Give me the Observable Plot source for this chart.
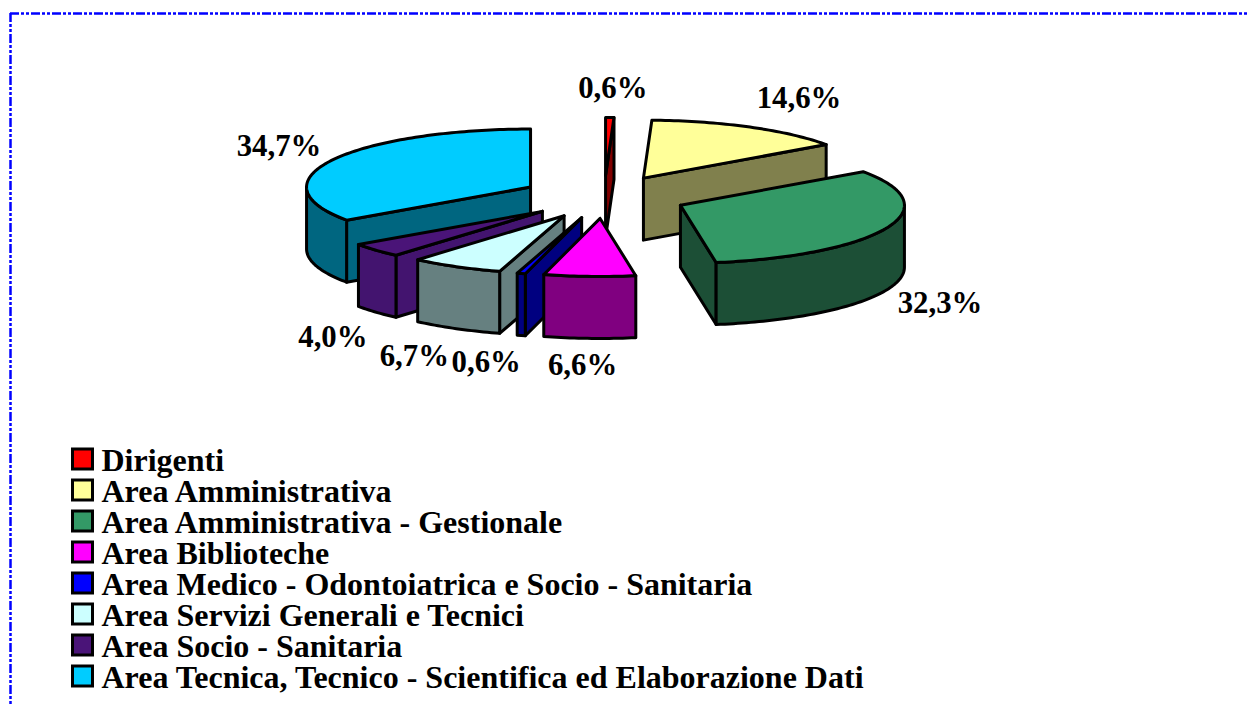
<!DOCTYPE html>
<html>
<head>
<meta charset="utf-8">
<script src="https://cdn.jsdelivr.net/npm/d3@7"></script>
<script src="https://cdn.jsdelivr.net/npm/@observablehq/plot@0.6"></script>
<style>
html,body{margin:0;padding:0;background:#fff;overflow:hidden}
svg{display:block}
</style>
</head>
<body>
<div id="chart"></div>
<script>
const categories = ["Dirigenti","Area Amministrativa","Area Amministrativa - Gestionale","Area Biblioteche","Area Medico - Odontoiatrica e Socio - Sanitaria","Area Servizi Generali e Tecnici","Area Socio - Sanitaria","Area Tecnica, Tecnico - Scientifica ed Elaborazione Dati"];
const values = [0.6,14.6,32.3,6.6,0.6,6.7,4.0,34.7];
const valueLabels = ["0,6%","14,6%","32,3%","6,6%","0,6%","6,7%","4,0%","34,7%"];
const topColors = ["#ff0000","#ffff99","#339966","#ff00ff","#0000ff","#ccffff","#4a1478","#00ccff"];
const wallColors = ["#800000","#80804d","#1c4f36","#800080","#000080","#668080","#43146f","#006680"];
// layout of the pie (ellipse on screen)
const cx = 603.5, cy = 196.5, rx = 224, ry = 58, depth = 62, explode = 0.37;
// nudges of each value label from the outer middle of its slice
const labelNudge = [[3,-29],[49,-29],[53,75],[-7,89],[-35,89],[-42,89],[-43,87],[-53,-14]];

const font = "'Liberation Serif','Times New Roman',serif";
const pt = (a, r, o) => [o[0] + r*rx*Math.sin(a), o[1] - r*ry*Math.cos(a)];
const arcs = d3.pie().sort(null)(values);
const polys = [];
const labelsData = [];
const order = d3.range(values.length);
const mid = i => (arcs[i].startAngle + arcs[i].endAngle)/2;
order.sort((i,j) => Math.cos(mid(j)) - Math.cos(mid(i)));
function arcPts(a0, a1, o, dy){
  const n = Math.max(2, Math.ceil((a1-a0)/0.02));
  return d3.range(n+1).map(k => { const p = pt(a0+(a1-a0)*k/n, 1, o); return [p[0], p[1]+dy]; });
}
function add(points, color){
  const id = polys.length ? polys[polys.length-1].id + 1 : 0;
  const closed = [...points, points[0]];
  for (const p of closed) polys.push({id, x:p[0], y:p[1], color});
}
order.forEach(i => {
  const {startAngle:a0, endAngle:a1} = arcs[i];
  const m = mid(i);
  const o = pt(m, explode, [cx,cy]);
  const wall = a => {
    const e = pt(a,1,o);
    add([o, e, [e[0],e[1]+depth], [o[0],o[1]+depth]], wallColors[i]);
  };
  if (Math.sin(a0) < -1e-6) wall(a0);
  if (Math.sin(a1) > 1e-6) wall(a1);
  const f0 = Math.max(a0, Math.PI/2), f1 = Math.min(a1, 3*Math.PI/2);
  if (f1 > f0) {
    add([...arcPts(f0,f1,o,0), ...arcPts(f0,f1,o,depth).reverse()], wallColors[i]);
  }
  add([o, ...arcPts(a0,a1,o,0)], topColors[i]);
});
arcs.forEach((a,i) => {
  const o = pt(mid(i), explode, [cx,cy]);
  const p = pt(mid(i), 1, o);
  labelsData.push({x:p[0]+labelNudge[i][0], y:p[1]+labelNudge[i][1], text:valueLabels[i]});
});
const legendTop = 449, legendStep = 31, swatch = 20, swatchX = 72.5;
const legendRows = categories.map((c,i) => ({c, color: topColors[i], y: legendTop + i*legendStep}));

const plot = Plot.plot({
  width:1247, height:706, margin:0,
  x:{domain:[0,1247], range:[0,1247]},
  y:{domain:[0,706], range:[0,706]},
  axis:null,
  marks:[
    Plot.ruleY([13],{x1:10,x2:1247,stroke:"#0000ff",strokeWidth:2.5,strokeDasharray:"9 2 3 2 3 2"}),
    Plot.ruleX([10],{y1:13,y2:706,stroke:"#0000ff",strokeWidth:2.5,strokeDasharray:"9 2 3 2 3 2"}),
    Plot.line(polys,{x:"x",y:"y",z:"id",fill:"color",stroke:"#000",strokeWidth:3,strokeLinejoin:"round",curve:"linear"}),
    Plot.text(labelsData,{x:"x",y:"y",text:"text",fontFamily:font,fontWeight:"bold",fontSize:30.8,fill:"#000",lineAnchor:"middle",textAnchor:"middle"}),
    Plot.rect(legendRows,{x1:()=>swatchX,x2:()=>swatchX+swatch,y1:"y",y2:d=>d.y+swatch,fill:"color",stroke:"#000",strokeWidth:3}),
    Plot.text(legendRows,{x:()=>101,y:d=>d.y+swatch/2+1,text:"c",fontFamily:font,fontWeight:"bold",fontSize:32,fill:"#000",textAnchor:"start",lineAnchor:"middle"})
  ]
});
document.getElementById("chart").append(plot);
</script>
</body>
</html>
